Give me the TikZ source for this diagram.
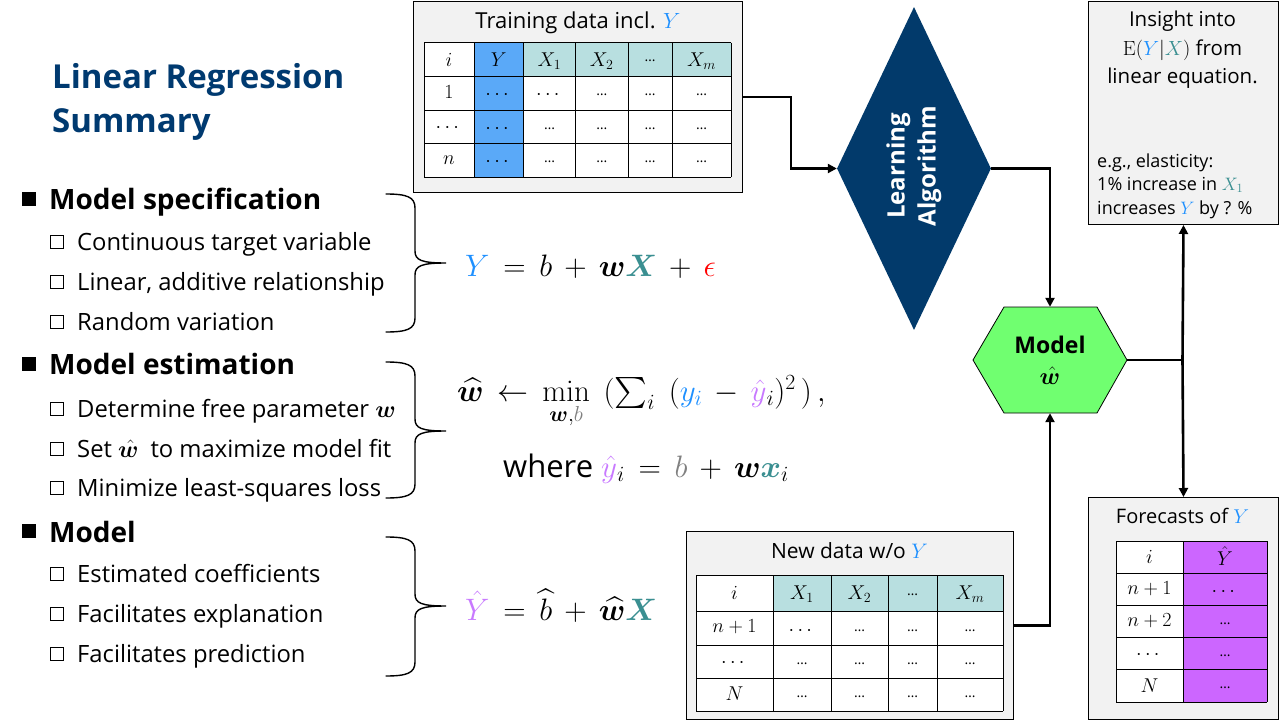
\RequirePackage{fix-cm}
\documentclass[tikz,border=0pt]{standalone}
\usepackage{amsmath,amssymb,bm}
\usepackage[no-math]{fontspec}
\setmainfont{Open Sans}
\usetikzlibrary{arrows.meta,shapes.geometric}

\definecolor{titlenavy}{HTML}{003A70}
\definecolor{algonavy}{HTML}{023A6B}
\definecolor{yblue}{HTML}{1E90FF}
\definecolor{xteal}{HTML}{3A8F91}
\definecolor{yhat}{HTML}{C879FF}
\definecolor{panelgray}{HTML}{F2F2F2}
\definecolor{ycol}{HTML}{5AA9F8}
\definecolor{xhead}{HTML}{B8DFE0}
\definecolor{fcol}{HTML}{CC66FF}
\definecolor{modelgreen}{HTML}{70FF70}

\newcommand{\fs}[2]{\fontsize{#1}{#2}\selectfont}
% right-hand curly brace: top, tip, bottom (pixel rows)
\newcommand{\sidebrace}[3]{%
  \draw[bracestyle] (386,#1) .. controls (407,#1) and (415,#1+3) .. (415,#1+14)
    -- (415,#2-12) .. controls (415,#2-3) and (421,#2) .. (446,#2)
    .. controls (421,#2) and (415,#2+3) .. (415,#2+12)
    -- (415,#3-14) .. controls (415,#3-3) and (407,#3) .. (386,#3);}

\begin{document}
\begin{tikzpicture}[x=1pt,y=-1pt,
  panel/.style={draw=black,line width=1pt,fill=panelgray,inner sep=0,anchor=north west},
  grid/.style={line width=0.8pt,draw=black},
  cell/.style={inner sep=0,font=\fs{20}{24}},
  dots/.style={inner sep=0,font=\fs{14}{16}},
  conn/.style={line width=2.6pt,-{Triangle[length=9pt,width=9pt]}},
  bracestyle/.style={line width=1.4pt,line cap=round},
  head/.style={inner sep=0,anchor=base west,font=\bfseries\fs{28}{32}},
  item/.style={inner sep=0,anchor=base west,font=\fs{23.8}{28}},
  eq/.style={inner sep=0,anchor=base west,font=\fs{31}{36},
    execute at begin node={\medmuskip=7mu\relax\thickmuskip=8mu\relax}},
  bigbox/.style={fill=black,inner sep=0,minimum size=14pt},
  smallbox/.style={draw=black,line width=1.1pt,fill=white,inner sep=0,minimum size=13pt}]

\useasboundingbox (0,0) rectangle (1280,720);
\fill[white] (0,0) rectangle (1280,720);

% ---------- title ----------
\node[inner sep=0,anchor=base west,text=titlenavy,font=\bfseries\fs{33}{40}] (title1) at (52,88) {Linear Regression};
\node[inner sep=0,anchor=base west,text=titlenavy,font=\bfseries\fs{33}{40}] (title2) at (52,132) {Summary};

% ---------- summary list ----------
\node[bigbox] (b1) at (29,199) {};
\node[head] (h1) at (49,209) {Model specification};
\node[smallbox] (s11) at (57,242) {};
\node[item] (i11) at (77,250) {Continuous target variable};
\node[smallbox] (s12) at (57,282) {};
\node[item] (i12) at (77,290) {Linear, additive relationship};
\node[smallbox] (s13) at (57,322) {};
\node[item] (i13) at (77,330) {Random variation};

\node[bigbox] (b2) at (29,364) {};
\node[head] (h2) at (49,374) {Model estimation};
\node[smallbox] (s21) at (57,409) {};
\node[item] (i21) at (77,417) {Determine free parameter $\bm{w}$};
\node[smallbox] (s22) at (57,449) {};
\node[item] (i22) at (77,457) {Set $\hat{\bm{w}}$\enspace to maximize model fit};
\node[smallbox] (s23) at (57,488) {};
\node[item] (i23) at (77,496) {Minimize least-squares loss};

\node[bigbox] (b3) at (29,531) {};
\node[head] (h3) at (49,542) {Model};
\node[smallbox] (s31) at (57,574) {};
\node[item] (i31) at (77,582) {Estimated coefficients};
\node[smallbox] (s32) at (57,614) {};
\node[item] (i32) at (77,622) {Facilitates explanation};
\node[smallbox] (s33) at (57,654) {};
\node[item] (i33) at (77,662) {Facilitates prediction};

% ---------- braces ----------
\sidebrace{194}{263}{332}
\sidebrace{362}{431}{498}
\sidebrace{537}{606}{676}

% ---------- equations ----------
\node[eq] (eqspec) at (465,276)
  {$\textcolor{yblue}{Y} = b + \bm{w}\textcolor{xteal}{\bm{X}} + \textcolor{red}{\epsilon}$};
\node[eq] (eqest) at (457,401)
  {$\widehat{\bm{w}} \leftarrow \min\limits_{\bm{w},\textcolor{gray}{b}}\;(\textstyle\sum_i\;(\textcolor{yblue}{y_i} - \textcolor{yhat}{\hat{y}}_i)^2\,)\,,$};
\node[eq] (eqwhere) at (503,477)
  {where $\textcolor{yhat}{\hat{y}}_i = \textcolor{gray}{b} + \bm{w}\textcolor{xteal}{\bm{x}}_i$};
\node[eq] (eqmodel) at (465,620)
  {$\textcolor{yhat}{\hat{Y}} = \widehat{b} + \widehat{\bm{w}}\textcolor{xteal}{\bm{X}}$};

% ---------- training data ----------
\node[panel,minimum width=329pt,minimum height=191pt] (train) at (413,1) {};
\node[inner sep=0,anchor=base,font=\fs{22}{26}] (traintitle) at (578,28) {Training data incl. $\textcolor{yblue}{Y}$};
\fill[white] (424,42.5) rectangle (474,177);
\fill[white] (523.5,76.5) rectangle (731,177);
\fill[ycol] (474,42.5) rectangle (523.5,177);
\fill[xhead] (523.5,42.5) rectangle (731,76.5);
\foreach \x in {424,474,523.5,575.5,628,672,731} \draw[grid] (\x,42.5) -- (\x,177);
\foreach \y in {42.5,76.5,110,143.5,177} \draw[grid] (424,\y) -- (731,\y);
\node[cell] (tr00) at (449,59.5) {$i$};
\node[cell] (tr01) at (498.75,59.5) {$Y$};
\node[cell] (tr02) at (549.5,61) {$X_1$};
\node[cell] (tr03) at (601.75,61) {$X_2$};
\node[dots] (tr04) at (650,61) {…};
\node[cell] (tr05) at (701.5,61) {$X_m$};
\node[cell] (tr10) at (449,92) {$1$};
\node[cell] (tr11) at (498.75,95) {$\cdots$};
\node[cell] (tr12) at (549.5,95) {$\cdots$};
\node[dots] (tr13) at (601.75,95) {…};
\node[dots] (tr14) at (650,95) {…};
\node[dots] (tr15) at (701.5,95) {…};
\node[cell] (tr20) at (449,128) {$\cdots$};
\node[cell] (tr21) at (498.75,129) {$\cdots$};
\node[dots] (tr22) at (549.5,129) {…};
\node[dots] (tr23) at (601.75,129) {…};
\node[dots] (tr24) at (650,129) {…};
\node[dots] (tr25) at (701.5,129) {…};
\node[cell] (tr30) at (449,160) {$n$};
\node[cell] (tr31) at (498.75,162) {$\cdots$};
\node[dots] (tr32) at (549.5,162) {…};
\node[dots] (tr33) at (601.75,162) {…};
\node[dots] (tr34) at (650,162) {…};
\node[dots] (tr35) at (701.5,162) {…};

% ---------- learning algorithm ----------
\node[diamond,fill=algonavy,minimum width=154pt,minimum height=323pt,inner sep=0] (algo) at (914,168.5) {};
\node[rotate=90,text=white,align=center,inner sep=0,font=\bfseries\fs{24}{31}] (algotext) at (914,166) {Learning\\Algorithm};

% ---------- model ----------
\node[inner sep=0,minimum width=154pt,minimum height=106pt] (model) at (1050,360) {};
\filldraw[fill=modelgreen,draw=black,line width=0.8pt]
  (973,360) -- (1004,307) -- (1097,307) -- (1127,360) -- (1097,413) -- (1004,413) -- cycle;
\node[inner sep=0,anchor=base,font=\bfseries\fs{23}{30}] (modeltext) at (1050,353) {Model};
\node[inner sep=0,anchor=base,font=\fs{24}{30}] (modelw) at (1050,384) {$\hat{\bm{w}}$};

% ---------- insight ----------
\node[panel,minimum width=190pt,minimum height=223pt] (insight) at (1088,1) {};
\node[inner sep=0,anchor=base,font=\fs{20.5}{28}] (ins1) at (1182.5,27) {Insight into};
\node[inner sep=0,anchor=base,font=\fs{20.5}{28}] (ins2) at (1182.5,55) {$\mathrm{E}(\textcolor{yblue}{Y}|\textcolor{xteal}{X})$ from};
\node[inner sep=0,anchor=base,font=\fs{20.5}{28}] (ins3) at (1182.5,83) {linear equation.};
\node[inner sep=0,anchor=base west,font=\fs{18}{24}] (ins4) at (1097,167) {e.g., elasticity:};
\node[inner sep=0,anchor=base west,font=\fs{18}{24}] (ins5) at (1097,190) {1\% increase in $\textcolor{xteal}{X_1}$};
\node[inner sep=0,anchor=base west,font=\fs{18}{24}] (ins6) at (1097,214) {increases $\textcolor{yblue}{Y}$ by ? \%};

% ---------- new data ----------
\node[panel,minimum width=327pt,minimum height=188pt] (newdata) at (686,531) {};
\node[inner sep=0,anchor=base,font=\fs{21}{26}] (newtitle) at (849.5,558) {New data w/o $\textcolor{yblue}{Y}$};
\fill[white] (696,575) rectangle (1003,711);
\fill[xhead] (773,575) rectangle (1003,611);
\foreach \x in {696,773,831,888,937,1003} \draw[grid] (\x,575) -- (\x,711);
\foreach \y in {575,611,645,678,711} \draw[grid] (696,\y) -- (1003,\y);
\node[cell] (nd00) at (734.5,593) {$i$};
\node[cell] (nd01) at (802,594) {$X_1$};
\node[cell] (nd02) at (859.5,594) {$X_2$};
\node[dots] (nd03) at (912.5,595) {…};
\node[cell] (nd04) at (970,594) {$X_m$};
\node[cell] (nd10) at (734.5,627) {$n+1$};
\node[cell] (nd11) at (802,631) {$\cdots$};
\node[dots] (nd12) at (859.5,631) {…};
\node[dots] (nd13) at (912.5,631) {…};
\node[dots] (nd14) at (970,631) {…};
\node[cell] (nd20) at (734.5,663) {$\cdots$};
\node[dots] (nd21) at (802,664) {…};
\node[dots] (nd22) at (859.5,664) {…};
\node[dots] (nd23) at (912.5,664) {…};
\node[dots] (nd24) at (970,664) {…};
\node[cell] (nd30) at (734.5,694) {$N$};
\node[dots] (nd31) at (802,697) {…};
\node[dots] (nd32) at (859.5,697) {…};
\node[dots] (nd33) at (912.5,697) {…};
\node[dots] (nd34) at (970,697) {…};

% ---------- forecasts ----------
\node[panel,minimum width=190pt,minimum height=222pt] (forecast) at (1088,497) {};
\node[inner sep=0,anchor=base,font=\fs{20}{26}] (fctitle) at (1182.5,523) {Forecasts of $\textcolor{yblue}{Y}$};
\fill[white] (1116,541) rectangle (1183,702);
\fill[fcol] (1183,541) rectangle (1267,702);
\foreach \x in {1116,1183,1267} \draw[grid] (\x,541) -- (\x,702);
\foreach \y in {541,573,605,637,669,702} \draw[grid] (1116,\y) -- (1267,\y);
\node[cell] (fc00) at (1149.5,557) {$i$};
\node[cell] (fc01) at (1225,556) {$\hat{Y}$};
\node[cell] (fc10) at (1149.5,589) {$n+1$};
\node[cell] (fc11) at (1225,592) {$\cdots$};
\node[cell] (fc20) at (1149.5,621) {$n+2$};
\node[dots] (fc21) at (1225,624) {…};
\node[cell] (fc30) at (1149.5,655) {$\cdots$};
\node[dots] (fc31) at (1225,656) {…};
\node[cell] (fc40) at (1149.5,685.5) {$N$};
\node[dots] (fc41) at (1225,688) {…};

% ---------- connectors ----------
\draw[conn] (train.east) -- ++(48,0) |- (algo.west);
\draw[conn] (algo.east) -| (model.north);
\draw[conn] (newdata.east) -| (model.south);
\draw[line width=2.6pt] (model.east) -- (1182.5,360) coordinate (split);
\draw[conn] (split) -- (insight.south);
\draw[conn] (split) -- (forecast.north);
\end{tikzpicture}
\end{document}
